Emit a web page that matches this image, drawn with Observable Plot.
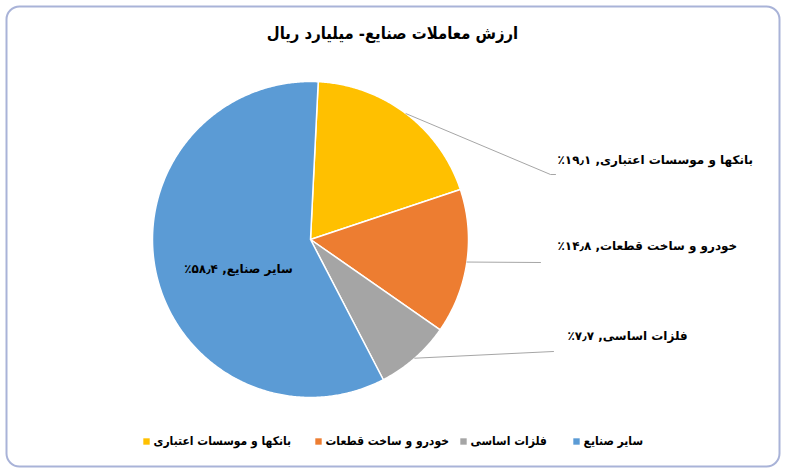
<!DOCTYPE html>
<html><head><meta charset="utf-8">
<script src="https://cdn.jsdelivr.net/npm/d3@7"></script>
<script src="https://cdn.jsdelivr.net/npm/@observablehq/plot@0.6"></script>
<style>body{margin:0;background:#fff;} svg text{direction:rtl;}</style>
</head><body><div id="chart"></div>
<script>
// ---- data ----
const title = "ارزش معاملات صنایع- میلیارد ریال";
const categories = ["بانکها و موسسات اعتباری", "خودرو و ساخت قطعات", "فلزات اساسی", "سایر صنایع"];
const shares = [19.1, 14.8, 7.7, 58.4];
const colors = ["#FFC000", "#ED7D31", "#A5A5A5", "#5B9BD5"];

// ---- layout ----
const W = 786, H = 472, cx = 310, cy = 239, R = 158, startDeg = 2.8;
const FONT = "DejaVu Sans";
const CONDENSED = "DejaVu Sans Condensed, DejaVu Sans";
const faDigits = "۰۱۲۳۴۵۶۷۸۹";
const fmt = v => v.toFixed(1).replace(".", "٫").replace(/\d/g, d => faDigits[d]) + "٪";

const a0 = startDeg * Math.PI / 180;
const arcs = d3.pie().sort(null).value(d => d).startAngle(a0).endAngle(a0 + 2 * Math.PI)(shares);

const slicePts = [];
arcs.forEach((a, i) => {
  const n = Math.max(2, Math.ceil((a.endAngle - a.startAngle) / (Math.PI / 360)));
  slicePts.push({k: i, x: cx, y: cy});
  for (let j = 0; j <= n; j++) {
    const t = a.startAngle + (a.endAngle - a.startAngle) * j / n;
    slicePts.push({k: i, x: cx + R * Math.sin(t), y: cy - R * Math.cos(t)});
  }
  slicePts.push({k: i, x: cx, y: cy});
});

// label anchors (outside labels for first three, inside for the last)
const labelAt = [
  {x: 557, y: 160, leader: [[550, 174], [555, 174]]},
  {x: 557, y: 246, leader: [[540, 262]]},
  {x: 567, y: 336, leader: [[553, 351]]},
  {x: 238, y: 269, leader: null}
];
const leaderPts = [];
arcs.forEach((a, i) => {
  const L = labelAt[i].leader;
  if (!L) return;
  const m = (a.startAngle + a.endAngle) / 2;
  leaderPts.push({k: i, x: cx + R * Math.sin(m), y: cy - R * Math.cos(m)});
  L.forEach(p => leaderPts.push({k: i, x: p[0], y: p[1]}));
});
const labels = arcs.map((a, i) => ({
  text: categories[i] + ", " + fmt(shares[i]),
  x: labelAt[i].x, y: labelAt[i].y, inside: labelAt[i].leader === null
}));

const legendX = [146, 318, 463, 576];
const legend = categories.map((c, i) => ({c, color: colors[i], x: legendX[i], y: 441}));

const chart = Plot.plot({
  width: W, height: H, margin: 0,
  x: {domain: [0, W], range: [0, W], axis: null},
  y: {domain: [0, H], range: [0, H], axis: null},
  style: {fontFamily: FONT, direction: "rtl", background: "white", color: "#000"},
  marks: [
    Plot.frame({stroke: "#a9b3d8", strokeWidth: 2, rx: 13, insetLeft: 6, insetTop: 6, insetRight: 7, insetBottom: 6}),
    Plot.text([{t: title, x: 392, y: 33}], {x: "x", y: "y", text: "t", fontSize: 16.5, fontWeight: "bold", fontFamily: CONDENSED, textAnchor: "middle", fill: "#000"}),
    Plot.line(slicePts, {x: "x", y: "y", z: "k", fill: d => colors[d.k], stroke: "white", strokeWidth: 1.5, strokeLinejoin: "round", curve: "linear"}),
    Plot.line(leaderPts, {x: "x", y: "y", z: "k", stroke: "#a6a6a6", strokeWidth: 1}),
    Plot.text(labels.filter(d => !d.inside), {x: "x", y: "y", text: "text", textAnchor: "end", fontSize: 12, fontWeight: "bold", fill: "#000"}),
    Plot.text(labels.filter(d => d.inside), {x: "x", y: "y", text: "text", textAnchor: "middle", fontSize: 12, fontWeight: "bold", fill: "#000"}),
    Plot.dot(legend, {x: "x", y: "y", symbol: "square", r: 3.6, fill: "color", stroke: null}),
    Plot.text(legend, {x: d => d.x + 7, y: "y", text: "c", textAnchor: "end", fontSize: 12, fontWeight: "bold", fontFamily: CONDENSED, fill: "#000"})
  ]
});
document.getElementById("chart").appendChild(chart);
</script>
</body></html>
